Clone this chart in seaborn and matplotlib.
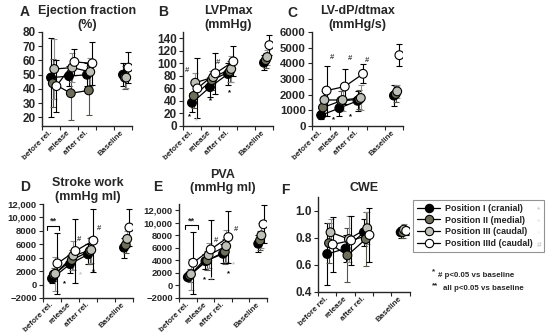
import matplotlib
matplotlib.use("Agg")
import matplotlib.pyplot as plt
from matplotlib.lines import Line2D
from matplotlib.ticker import FuncFormatter
import numpy as np
import pandas as pd
import seaborn as sns

# x categories (slot 3 is an empty gap before Baseline)
slots = ["before rel.", "release", "after rel.", "", "Baseline"]
slot_pos = [0, 1, 2, 4]
series = ["Position I (cranial)", "Position II (medial)",
          "Position III (caudal)", "Position IIId (caudal)"]

# A - ejection fraction (%), one row per series: before, release, after, baseline
ef_mean = [[48, 49, 50, 50], [44, 37, 39, 48], [54, 55, 52, 48], [42, 59, 58, 55]]
ef_sd = [[28, 7, 8, 8], [17, 19, 17, 8], [21, 10, 10, 7], [18, 9, 15, 11]]

# B - LVPmax (mmHg)
lvp_mean = [[37, 62, 83, 101], [48, 73, 87, 105], [69, 78, 91, 110], [60, 84, 103, 129]]
lvp_sd = [[15, 16, 17, 12], [20, 15, 17, 12], [15, 10, 20, 12], [48, 33, 24, 16]]

# C - LV-dP/dtmax (mmHg/s)
dpdt_mean = [[690, 1140, 1610, 1940], [1180, 1610, 1700, 2040],
             [1660, 1660, 1790, 2210], [2260, 2520, 3330, 4520]]
dpdt_sd = [[250, 500, 650, 650], [500, 600, 600, 500],
           [600, 700, 800, 400], [1600, 1100, 600, 700]]

# D - stroke work (mmHg ml)
sw_mean = [[900, 3050, 4500, 5500], [1500, 3650, 5000, 5900],
           [1600, 4300, 5150, 6800], [3150, 5000, 6550, 8500]]
sw_sd = [[600, 1300, 1500, 1500], [1000, 1500, 2000, 1200],
         [2500, 2200, 2000, 1200], [4500, 4750, 4700, 2700]]

# E - PVA (mmHg ml)
pva_mean = [[1310, 3880, 5060, 6660], [1580, 3990, 5380, 7190],
            [1800, 4840, 6280, 8000], [3620, 5750, 7720, 9760]]
pva_sd = [[500, 1200, 1500, 1400], [1000, 1500, 2000, 1500],
          [2500, 2000, 2500, 2000], [4950, 4650, 4200, 3000]]

# F - CWE
cwe_mean = [[0.68, 0.72, 0.84, 0.84], [0.76, 0.67, 0.79, 0.84],
            [0.84, 0.79, 0.87, 0.86], [0.75, 0.78, 0.82, 0.85]]
cwe_sd = [[0.23, 0.10, 0.10, 0.04], [0.15, 0.20, 0.20, 0.04],
          [0.10, 0.17, 0.12, 0.04], [0.20, 0.18, 0.20, 0.03]]

# significance marks: (x, y, symbol, series index of colour)
lvp_marks = [(-0.15, 14, "*", 0), (0.26, 9, "*", 2), (-0.3, 88, "#", 3),
             (1.44, 101, "#", 3), (1.04, 40, "*", 0), (2.07, 53, "*", 0)]
dpdt_marks = [(0.58, 4400, "#", 3), (1.59, 4300, "#", 3), (2.5, 4190, "#", 3),
              (0.67, 430, "*", 0), (1.59, 580, "*", 0)]
sw_marks = [(1.52, 6650, "#", 3), (2.61, 8400, "#", 3), (0.72, 150, "*", 0),
            (1.56, 1500, "*", 2), (2.3, 1900, "*", 0)]
pva_marks = [(1.59, 7190, "#", 3), (2.74, 8950, "#", 3), (0.94, 940, "*", 0),
             (1.37, 940, "*", 2), (2.3, 1900, "*", 0), (2.57, 3350, "*", 2)]
# "**" brackets: x0, x1, top, foot
sw_bracket = (-0.28, 0.39, 8750, 8150)
pva_bracket = (-0.17, 0.56, 9600, 9000)

face_colors = ["#000000", "#6e6e5a", "#bcc0b6", "#ffffff"]
err_colors = ["#000000", "#55554a", "#8f8f8f", "#000000"]
mark_colors = ["#000000", "#8a8a72", "#c4c4c4", "#444444"]
offsets = [0.0, 0.1, 0.18, 0.3]

sns.set_theme(style="ticks")
plt.rcParams["font.family"] = ["Liberation Sans", "DejaVu Sans"]
plt.rcParams["font.weight"] = "bold"
plt.rcParams["axes.linewidth"] = 1.0


def panel_frame(mean, sd):
    rows = []
    for s, name in enumerate(series):
        for k, pos in enumerate(slot_pos):
            rows.append({"series": name, "slot": pos, "x": pos + offsets[s],
                         "value": mean[s][k], "sd": sd[s][k]})
    return pd.DataFrame(rows)


def big_fmt(v, _):
    txt = f"{v:,.0f}" if abs(v) >= 10000 else f"{v:.0f}"
    return txt.replace("-", "\u2212")


def draw_panel(ax, mean, sd, ylim, yticks, fmt, tsize, title, tpad):
    df = panel_frame(mean, sd)
    for s, name in enumerate(series):
        d = df[df["series"] == name]
        ax.errorbar(d["x"], d["value"], yerr=d["sd"], fmt="none",
                    ecolor=err_colors[s], elinewidth=0.8, capsize=2.2,
                    capthick=0.8, zorder=1)
    sns.lineplot(data=df[df["slot"] < 3], x="x", y="value", units="series",
                 estimator=None, color="black", lw=0.9, legend=False,
                 ax=ax, zorder=2)
    sns.scatterplot(data=df, x="x", y="value", hue="series",
                    palette=dict(zip(series, face_colors)), edgecolor="black",
                    linewidth=0.8, s=40, legend=False, ax=ax, zorder=3)

    ax.set_xlim(-0.5, 4.5)
    ax.set_ylim(*ylim)
    ax.set_yticks(yticks)
    ax.yaxis.set_major_formatter(fmt)
    ax.set_xticks(range(5))
    ax.set_xticklabels(slots, rotation=45, ha="right", va="center",
                       rotation_mode="anchor", fontsize=5.8, fontweight="bold")
    ax.set_xticks(np.arange(-0.5, 5), minor=True)
    ax.tick_params(axis="x", which="major", length=0, pad=4)
    ax.tick_params(axis="x", which="minor", length=3, width=0.8, direction="out")
    ax.tick_params(axis="y", length=3, width=0.8, labelsize=tsize, pad=1.5)
    for lab in ax.get_yticklabels():
        lab.set_fontweight("bold")
    ax.set_xlabel("")
    ax.set_ylabel("")
    ax.set_title(title, fontsize=9, fontweight="bold", pad=tpad)
    sns.despine(ax=ax)


def draw_marks(ax, marks):
    for x, y, sym, s in marks:
        ax.text(x, y, sym, color=mark_colors[s], fontsize=5.5,
                ha="center", va="center", fontweight="bold")


def draw_bracket(ax, br):
    x0, x1, top, foot = br
    ax.plot([x0, x0, x1, x1], [foot, top, top, foot], color="black", lw=0.8)
    ax.text((x0 + x1) / 2, top, "**", ha="center", va="bottom",
            fontsize=6.5, fontweight="bold")


fig = plt.figure(figsize=(5.5, 3.36), dpi=100)
axA = fig.add_axes([0.0764, 0.625, 0.1636, 0.2798])
axB = fig.add_axes([0.3327, 0.625, 0.1636, 0.2798])
axC = fig.add_axes([0.5673, 0.625, 0.1655, 0.2798])
axD = fig.add_axes([0.0782, 0.1131, 0.1636, 0.2798])
axE = fig.add_axes([0.3255, 0.1131, 0.1600, 0.2798])
axF = fig.add_axes([0.5782, 0.1310, 0.1670, 0.2827])

int_fmt = FuncFormatter(lambda v, _: f"{v:.0f}")
draw_panel(axA, ef_mean, ef_sd, (14, 80), range(20, 81, 10), int_fmt, 8.5,
           "Ejection fraction\n(%)", 3)
draw_panel(axB, lvp_mean, lvp_sd, (0, 150), range(0, 141, 20), int_fmt, 8.5,
           "LVPmax\n(mmHg)", 3)
draw_panel(axC, dpdt_mean, dpdt_sd, (0, 6000), range(0, 6001, 1000), int_fmt, 8.2,
           "LV-dP/dtmax\n(mmHg/s)", 3)
draw_panel(axD, sw_mean, sw_sd, (-2000, 12000), range(-2000, 12001, 2000),
           FuncFormatter(big_fmt), 6.8, "Stroke work\n(mmHg ml)", 3)
draw_panel(axE, pva_mean, pva_sd, (-2000, 13000), range(-2000, 12001, 2000),
           FuncFormatter(big_fmt), 6.8, "PVA\n(mmHg ml)", 9)
draw_panel(axF, cwe_mean, cwe_sd, (0.4, 1.1), [0.4, 0.6, 0.8, 1.0],
           FuncFormatter(lambda v, _: f"{v:.1f}"), 8.5, "CWE", 4)

draw_marks(axB, lvp_marks)
draw_marks(axC, dpdt_marks)
draw_marks(axD, sw_marks)
draw_marks(axE, pva_marks)
draw_bracket(axD, sw_bracket)
draw_bracket(axE, pva_bracket)

for letter, x, y in [("A", 0.045, 0.964), ("B", 0.296, 0.964), ("C", 0.531, 0.961),
                     ("D", 0.045, 0.443), ("E", 0.287, 0.443), ("F", 0.518, 0.435)]:
    fig.text(x, y, letter, fontsize=10, fontweight="bold", ha="center", va="center")

handles = [Line2D([0], [0], color="black", lw=0.9, marker="o", markersize=6,
                  markerfacecolor=fc, markeredgecolor="black", markeredgewidth=0.8)
           for fc in face_colors]
leg = fig.legend(handles, series, loc="upper left",
                 bbox_to_anchor=(0.751, 0.244, 0.238, 0.161), mode="expand",
                 frameon=True, fancybox=False, edgecolor="#777777", fontsize=6.4,
                 handlelength=2.6, labelspacing=0.3, borderpad=0.45,
                 handletextpad=0.5, borderaxespad=0)
leg.get_frame().set_linewidth(0.8)
for t in leg.get_texts():
    t.set_fontweight("bold")
    t.set_color("#222222")

for (sym, s), y in zip([("*", 0), ("*", 1), ("*", 2), ("#", 3)],
                       [0.376, 0.340, 0.305, 0.270]):
    fig.text(0.980, y, sym, color=mark_colors[s] if s < 3 else "black",
             fontsize=6, fontweight="bold", ha="center", va="center")

fig.text(0.785, 0.190, "*", fontsize=5.7, fontweight="bold", ha="left", va="center")
fig.text(0.797, 0.181, "# p<0.05 vs baseline", fontsize=5.7, fontweight="bold",
         ha="left", va="center")
fig.text(0.785, 0.150, "**", fontsize=5.7, fontweight="bold", ha="left", va="center")
fig.text(0.805, 0.141, "all p<0.05 vs baseline", fontsize=5.7, fontweight="bold",
         ha="left", va="center")

fig.savefig("out.png", dpi=100)
